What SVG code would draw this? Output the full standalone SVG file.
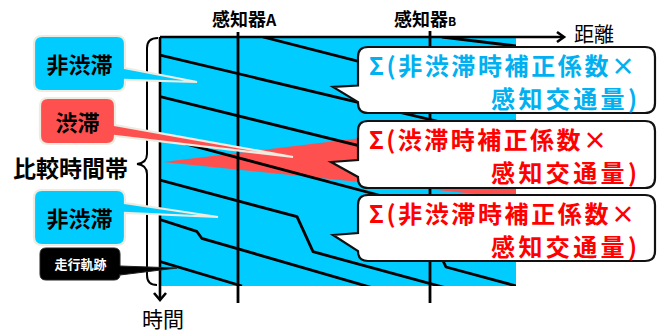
<svg xmlns="http://www.w3.org/2000/svg" width="664" height="333" viewBox="0 0 664 333">
<style>
.t{font-family:"Noto Sans CJK JP","Noto Sans",sans-serif;font-weight:bold}
.n{font-family:"Noto Sans CJK JP","Noto Sans",sans-serif;font-weight:normal}
.traj{fill:none;stroke:#000;stroke-width:2.8;stroke-linejoin:round}
.ax{fill:none;stroke:#000;stroke-width:2.6}
.call{fill:#fff;stroke:#111;stroke-width:2.2}
.lc{stroke:#EEECE1;stroke-width:2.2}
.blue{fill:#00B0F0}
.red{fill:#FF0000}
</style>
<defs>
<clipPath id="area"><rect x="160" y="37" width="356" height="249"/></clipPath>
</defs>
<rect x="160" y="37" width="356" height="249" fill="#00CCFF"/>
<polygon points="163,162 516,119 516,198" fill="#FF5050"/>
<g id="connectors" clip-path="url(#area)">
<polyline class="traj" points="442,37 516,46"/>
<polyline class="traj" points="263,37 516,101.5"/>
<polyline class="traj" points="160,55 516,140"/>
<polyline class="traj" points="160,96.5 516,184.5"/>
<polyline class="traj" points="160,137 416,205 446,267 520,287"/>
<polyline class="traj" points="160,180 297,216.7 313,251.7 450,289"/>
<polyline class="traj" points="160,219.5 196.7,231.3 201.7,238.3 380,290"/>
<polyline class="traj" points="160,261.5 242,286"/>
</g>
<g id="sensors">
<line x1="238" y1="32" x2="238" y2="303" stroke="#000" stroke-width="2.8"/>
<line x1="430" y1="31" x2="430" y2="303" stroke="#000" stroke-width="2.8"/>
<text class="t" x="212" y="26" font-size="18">感知器<tspan font-size="16">A</tspan></text>
<text class="t" x="394" y="26" font-size="18">感知器<tspan font-size="12">B</tspan></text>
</g>
<g id="axes">
<line class="ax" x1="160" y1="37" x2="563" y2="37"/>
<path class="ax" d="M557 32 L564 37 L557 42"/>
<line class="ax" x1="160" y1="37" x2="160" y2="300"/>
<path class="ax" d="M154 293 L160 300 L166 293"/>
<text class="n" x="574" y="42" font-size="20">距離</text>
<text class="n" x="142" y="327" font-size="21">時間</text>
</g>
<g id="brace">
<path d="M158 38 Q147 38 147 48 L147 154 Q147 163 137 164 Q147 165 147 174 L147 275 Q147 285 157 285" fill="none" stroke="#000" stroke-width="2"/>
<text class="t" x="13" y="177" font-size="23">比較時間帯</text>
</g>
<g id="callout-nonjam-1">
<path class="call" d="M368 47 H645 Q655 47 655 57 V103 Q655 113 645 113 H368 Q358 113 358 103 V102 L333 87 L358 85.5 V57 Q358 47 368 47 Z"/>
<text class="t blue" x="369" y="75" font-size="24" textLength="266" lengthAdjust="spacing">Σ(非渋滞時補正係数×</text>
<text class="t blue" x="491" y="108" font-size="24" textLength="146" lengthAdjust="spacing">感知交通量)</text>
</g>
<g id="callout-jam">
<path class="call" d="M368 121 H645 Q655 121 655 131 V178 Q655 188 645 188 H368 Q358 188 358 178 V177 L331 162 L358 160 V131 Q358 121 368 121 Z"/>
<text class="t red" x="369" y="149" font-size="24" textLength="238" lengthAdjust="spacing">Σ(渋滞時補正係数×</text>
<text class="t red" x="491" y="182" font-size="24" textLength="146" lengthAdjust="spacing">感知交通量)</text>
</g>
<g id="callout-nonjam-2">
<path class="call" d="M368 195 H645 Q655 195 655 205 V251 Q655 261 645 261 H368 Q358 261 358 251 V251 L333 235 L358 233 V205 Q358 195 368 195 Z"/>
<text class="t red" x="369" y="223" font-size="24" textLength="266" lengthAdjust="spacing">Σ(非渋滞時補正係数×</text>
<text class="t red" x="491" y="256" font-size="24" textLength="146" lengthAdjust="spacing">感知交通量)</text>
</g>
<g id="label-nonjam-top">
<path class="lc" fill="#00CCFF" d="M42 36 H117 Q125 36 125 44 V68 L197 82 L125 80 V83 Q125 91 117 91 H42 Q34 91 34 83 V44 Q34 36 42 36 Z"/>
<text class="t" x="79.5" y="73" font-size="22" text-anchor="middle">非渋滞</text>
</g>
<g id="label-jam">
<path class="lc" fill="#FF5050" d="M48 98 H107 Q115 98 115 106 V125 L293 157 L115 136 Q115 144 107 144 H48 Q40 144 40 136 V106 Q40 98 48 98 Z"/>
<text class="t" x="77.5" y="130.5" font-size="22" text-anchor="middle">渋滞</text>
</g>
<g id="label-nonjam-bottom">
<path class="lc" fill="#00CCFF" d="M42 190 H117 Q125 190 125 198 V203 L218 217 L125 213 V237 Q125 245 117 245 H42 Q34 245 34 237 V198 Q34 190 42 190 Z"/>
<text class="t" x="79.5" y="226.5" font-size="22" text-anchor="middle">非渋滞</text>
</g>
<g id="label-trajectory">
<path fill="#000" stroke="#222" stroke-width="1" d="M46 248 H114 Q120 248 120 254 V266 L177 268 L120 275 V274 Q120 280 114 280 H46 Q40 280 40 274 V254 Q40 248 46 248 Z"/>
<text class="t" x="80.5" y="269" font-size="13" text-anchor="middle" fill="#fff">走行軌跡</text>
</g>
</svg>
